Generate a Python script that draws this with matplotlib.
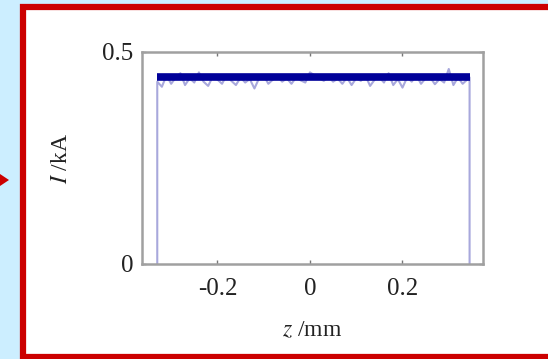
import numpy as np
import matplotlib.pyplot as plt
from matplotlib.patches import Rectangle, Polygon

plt.rcParams['font.family'] = ['Liberation Serif', 'DejaVu Serif']
plt.rcParams['axes.unicode_minus'] = False
plt.rcParams['mathtext.fontset'] = 'stix'

# mean coil current along the winding
z_mean = [-0.33, 0.345]
i_mean = [0.44, 0.44]

# measured current trace (kA) along z (mm)
z_trace = [-0.330, -0.330, -0.320, -0.310, -0.300, -0.290, -0.280, -0.270, -0.260,
           -0.250, -0.240, -0.230, -0.220, -0.210, -0.200, -0.190, -0.180, -0.170,
           -0.160, -0.150, -0.140, -0.130, -0.120, -0.110, -0.100, -0.090, -0.080,
           -0.070, -0.060, -0.050, -0.040, -0.030, -0.020, -0.010, 0.000, 0.010,
           0.020, 0.030, 0.040, 0.050, 0.060, 0.070, 0.080, 0.090, 0.100, 0.110,
           0.120, 0.130, 0.140, 0.150, 0.160, 0.170, 0.180, 0.190, 0.200, 0.210,
           0.220, 0.230, 0.240, 0.250, 0.260, 0.270, 0.280, 0.290, 0.300, 0.310,
           0.320, 0.330, 0.345, 0.345]
i_trace = [0.000, 0.430, 0.418, 0.445, 0.425, 0.440, 0.450, 0.422, 0.438,
           0.428, 0.452, 0.430, 0.420, 0.442, 0.435, 0.425, 0.446, 0.432,
           0.422, 0.440, 0.428, 0.436, 0.414, 0.438, 0.445, 0.425, 0.435,
           0.442, 0.430, 0.438, 0.425, 0.440, 0.433, 0.428, 0.452, 0.445,
           0.438, 0.432, 0.442, 0.430, 0.437, 0.425, 0.440, 0.422, 0.438,
           0.432, 0.444, 0.420, 0.435, 0.440, 0.428, 0.450, 0.422, 0.436,
           0.416, 0.440, 0.430, 0.445, 0.425, 0.438, 0.440, 0.424, 0.436,
           0.428, 0.460, 0.422, 0.440, 0.425, 0.440, 0.000]

xticks = [-0.2, 0, 0.2]
xtick_labels = ['-0.2', '0', '0.2']
yticks = [0, 0.5]
ytick_labels = ['0', '0.5']

fig = plt.figure(figsize=(5.48, 3.59), dpi=100)
fig.patch.set_facecolor('#cceeff')

W, H = 548.0, 359.0
# white panel with red frame (open to the right)
frame = Rectangle((23 / W, 2.5 / H), 1.1, (359 - 7 - 2.5) / H, transform=fig.transFigure,
                  facecolor='white', edgecolor='#cc0000', linewidth=4.5, zorder=-10)
fig.patches.append(frame)
# arrow tip pointing into the panel
tip = Polygon([(0 / W, 1 - 174 / H), (9 / W, 1 - 180 / H), (0 / W, 1 - 186 / H)],
              closed=True, transform=fig.transFigure, facecolor='#cc0000',
              edgecolor='none', zorder=-9)
fig.patches.append(tip)

ax = fig.add_axes([142 / W, 1 - 264 / H, (483 - 142) / W, (264 - 52) / H])
ax.set_zorder(5)
ax.set_facecolor('white')

ax.plot(z_trace, i_trace, color='#a8a8dc', linewidth=1.5, zorder=2)
ax.plot(z_mean, i_mean, color='#000099', linewidth=5.5, solid_capstyle='butt', zorder=3)

ax.set_xlim(-0.363, 0.374)
ax.set_ylim(0, 0.5)
ax.set_xticks(xticks)
ax.set_xticklabels(xtick_labels)
ax.set_yticks(yticks)
ax.set_yticklabels(ytick_labels)
ax.tick_params(direction='in', length=3, width=1, color='#777777',
               top=True, right=True, labelsize=18, labelcolor='#222222')
ax.tick_params(axis='x', pad=10)
ax.tick_params(axis='y', pad=6)
for s in ax.spines.values():
    s.set_color('#a0a0a0')
    s.set_linewidth(1.8)

ax.set_xlabel(r'$z$ /mm', fontsize=17, color='#222222', labelpad=15)
ax.set_ylabel(r'$I$ /kA', fontsize=17, color='#222222', labelpad=22)

plt.savefig('out.png', dpi=100, facecolor=fig.get_facecolor())
